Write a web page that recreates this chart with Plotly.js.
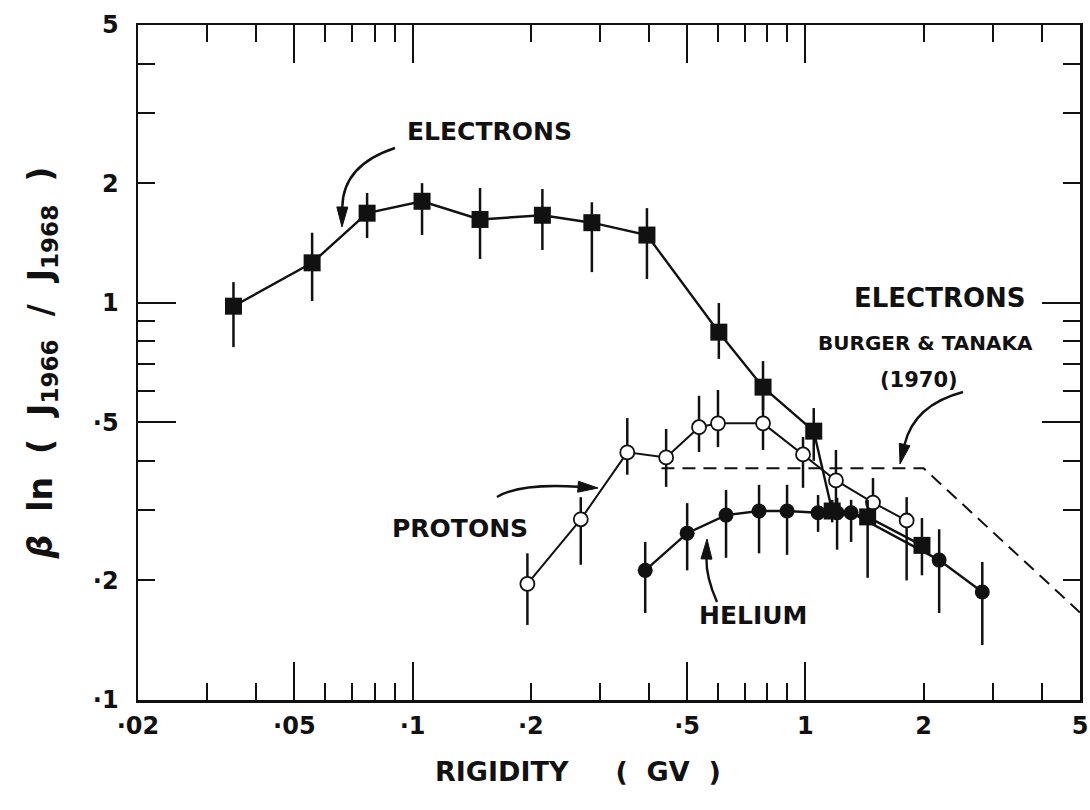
<!DOCTYPE html>
<html>
<head>
<meta charset="utf-8">
<script src="https://cdn.plot.ly/plotly-3.0.1.min.js"></script>
<style>
  html, body { margin: 0; padding: 0; background: #ffffff; }
  #chart { width: 1090px; height: 810px; }
</style>
</head>
<body>
<div id="chart"></div>
<script>
// Rigidity (GV) and beta*ln(J1966/J1968), with the ends of each error bar
const electronR  = [0.035, 0.0555, 0.0766, 0.1057, 0.1485, 0.214, 0.286, 0.395, 0.602, 0.78, 1.05, 1.17, 1.44, 1.98];
const electronV  = [0.98, 1.26, 1.68, 1.80, 1.62, 1.66, 1.59, 1.48, 0.843, 0.613, 0.475, 0.299, 0.289, 0.245];
const electronHi = [1.127, 1.50, 1.889, 2.00, 1.944, 1.933, 1.79, 1.73, 0.998, 0.713, 0.543, 0.319, 0.319, 0.287];
const electronLo = [0.773, 1.01, 1.455, 1.48, 1.288, 1.357, 1.194, 1.147, 0.722, 0.537, 0.40, 0.28, 0.203, 0.206];

const protonR  = [0.196, 0.268, 0.352, 0.442, 0.536, 0.599, 0.78, 0.986, 1.196, 1.486, 1.81];
const protonV  = [0.196, 0.285, 0.42, 0.408, 0.486, 0.497, 0.497, 0.415, 0.357, 0.314, 0.283];
const protonHi = [0.234, 0.324, 0.5125, 0.481, 0.583, 0.603, 0.586, 0.459, 0.426, 0.362, 0.324];
const protonLo = [0.1545, 0.219, 0.369, 0.344, 0.421, 0.433, 0.426, 0.342, 0.31, 0.276, 0.200];

const heliumR  = [0.391, 0.50, 0.628, 0.762, 0.898, 1.077, 1.204, 1.307, 2.19, 2.82];
const heliumV  = [0.212, 0.263, 0.292, 0.299, 0.299, 0.296, 0.296, 0.296, 0.225, 0.187];
const heliumHi = [0.25, 0.313, 0.338, 0.348, 0.348, 0.328, 0.323, 0.319, 0.269, 0.2225];
const heliumLo = [0.1656, 0.212, 0.228, 0.234, 0.232, 0.265, 0.239, 0.25, 0.1656, 0.1375];

// Burger & Tanaka (1970) electron curve
const btR = [0.43, 2.0, 5.0];
const btV = [0.383, 0.383, 0.166];

// Axis ticks
const xLabelVals = [0.02, 0.05, 0.1, 0.2, 0.5, 1, 2, 5];
const xLabelText = ['\u00B702', '\u00B705', '\u00B71', '\u00B72', '\u00B75', '1', '2', '5'];
const xMinorVals = [0.03, 0.04, 0.06, 0.07, 0.08, 0.09, 0.3, 0.4, 0.6, 0.7, 0.8, 0.9, 3, 4];
const xLongVals  = [0.05, 0.1, 0.5, 1];
const yLabelVals = [0.1, 0.2, 0.5, 1, 2, 5];
const yLabelText = ['\u00B71', '\u00B72', '\u00B75', '1', '2', '5'];
const yMinorVals = [0.3, 0.4, 0.6, 0.7, 0.8, 0.9, 3, 4];
const yLongVals  = [0.5, 1];

const FONT = 'DejaVu Sans, Verdana, sans-serif';
const INK = '#111111';
const NB = '\u00A0';

const plus  = (hi, v) => hi.map((h, i) => h - v[i]);
const minus = (lo, v) => lo.map((l, i) => v[i] - l);

function errBars(hi, lo, v) {
  return { type: 'data', symmetric: false, array: plus(hi, v), arrayminus: minus(lo, v),
           color: INK, thickness: 2.5, width: 0 };
}

const traces = [
  {
    name: 'Burger & Tanaka (1970)', x: btR, y: btV, xaxis: 'x2', yaxis: 'y2',
    mode: 'lines', line: { color: INK, width: 2, dash: '13px,8px' }, hoverinfo: 'skip'
  },
  {
    name: 'Helium', x: heliumR, y: heliumV, mode: 'lines+markers',
    line: { color: INK, width: 2.4 },
    marker: { symbol: 'circle', size: 15, color: INK, line: { width: 0 } },
    error_y: errBars(heliumHi, heliumLo, heliumV)
  },
  {
    name: 'Protons', x: protonR, y: protonV, mode: 'lines+markers',
    line: { color: INK, width: 2 },
    marker: { symbol: 'circle', size: 14, color: '#ffffff', line: { color: INK, width: 1.8 } },
    error_y: errBars(protonHi, protonLo, protonV)
  },
  {
    name: 'Electrons', x: electronR, y: electronV, mode: 'lines+markers',
    line: { color: INK, width: 2.4 },
    marker: { symbol: 'square', size: 17, color: INK, line: { width: 0 } },
    error_y: errBars(electronHi, electronLo, electronV)
  }
];

// Plot frame in pixels
const W = 1090, H = 810;
const M = { l: 138, r: 10, t: 25, b: 110 };
const PW = W - M.l - M.r, PH = H - M.t - M.b;
const fx = px => (px - M.l) / PW;
const fy = py => (H - M.b - py) / PH;

// Curved pointer arrows (pixel positions: tail, bend control, tip)
const pointers = [
  [[395, 148], [343, 165], [342, 227]],   // to electrons
  [[497, 497], [520, 483], [598, 488]],   // to protons
  [[717, 602], [706, 577], [707, 539]],   // to helium
  [[963, 392], [914, 405], [900, 464]]    // to Burger & Tanaka curve
];

const shapes = [];
pointers.forEach(([p0, c, p1]) => {
  const dx = p1[0] - c[0], dy = p1[1] - c[1];
  const L = Math.hypot(dx, dy), ux = dx / L, uy = dy / L;
  const len = 20, hw = 5.5;
  const bx = p1[0] - ux * len, by = p1[1] - uy * len;
  const a = [bx - uy * hw, by + ux * hw], b = [bx + uy * hw, by - ux * hw];
  shapes.push({
    type: 'path', xref: 'paper', yref: 'paper',
    path: `M${fx(p0[0])},${fy(p0[1])} Q${fx(c[0])},${fy(c[1])} ${fx(bx)},${fy(by)}`,
    line: { color: INK, width: 2.4 }
  });
  shapes.push({
    type: 'path', xref: 'paper', yref: 'paper',
    path: `M${fx(p1[0])},${fy(p1[1])} L${fx(a[0])},${fy(a[1])} L${fx(b[0])},${fy(b[1])} Z`,
    fillcolor: INK, line: { color: INK, width: 1 }
  });
});

function label(text, px, py, size) {
  return { text: text, xref: 'paper', yref: 'paper', x: fx(px), y: fy(py),
           xanchor: 'center', yanchor: 'middle', showarrow: false,
           font: { family: FONT, size: size, color: INK, weight: 'bold' } };
}

const annotations = [
  label('ELECTRONS', 489, 131, 25),
  label('ELECTRONS', 940, 298, 26),
  label('BURGER &amp; TANAKA', 925, 343, 20),
  label('(1970)', 919, 380, 21),
  label('PROTONS', 460, 528, 25),
  label('HELIUM', 753, 615, 25),
  // x-axis title, set a little left of the plot centre
  label('RIGIDITY' + NB.repeat(5) + '(' + NB.repeat(2) + 'GV' + NB.repeat(2) + ')', 578, 771, 27)
];

const logX = [Math.log10(0.02), Math.log10(5)];
const logY = [Math.log10(0.1), Math.log10(5)];

const baseAxis = {
  type: 'log', showgrid: false, zeroline: false,
  showline: true, linecolor: INK, linewidth: 2.5, mirror: 'allticks',
  ticks: 'inside', ticklen: 17, tickwidth: 2, tickcolor: INK,
  tickfont: { family: FONT, size: 24, color: INK, weight: 'bold' },
  tickmode: 'array'
};

const layout = {
  width: W, height: H,
  margin: M,
  paper_bgcolor: '#ffffff', plot_bgcolor: '#ffffff',
  showlegend: false,
  xaxis: Object.assign({}, baseAxis, {
    range: logX, tickvals: xLabelVals, ticktext: xLabelText,
    ticklabelstandoff: 3,
    minor: { tickmode: 'array', tickvals: xMinorVals, ticks: 'inside', ticklen: 17, tickwidth: 2, tickcolor: INK }
  }),
  yaxis: Object.assign({}, baseAxis, {
    range: logY, tickvals: yLabelVals, ticktext: yLabelText,
    ticklabelstandoff: 12,
    minor: { tickmode: 'array', tickvals: yMinorVals, ticks: 'inside', ticklen: 17, tickwidth: 2, tickcolor: INK },
    title: { text: '<i>\u03B2</i>' + NB + ' ln' + NB + ' (' + NB + ' J<sub>1966</sub>' + NB + ' /' + NB + ' J<sub>1968</sub>' + NB + ' )',
             standoff: 31,
             font: { family: FONT, size: 33, color: INK, weight: 'bold' } }
  }),
  // long ticks at the half and full decades
  xaxis2: Object.assign({}, baseAxis, {
    overlaying: 'x', anchor: 'y2', range: logX, tickvals: xLongVals,
    ticklen: 38, showticklabels: false
  }),
  yaxis2: Object.assign({}, baseAxis, {
    overlaying: 'y', anchor: 'x2', range: logY, tickvals: yLongVals,
    ticklen: 38, showticklabels: false
  }),
  shapes: shapes,
  annotations: annotations
};

Plotly.newPlot('chart', traces, layout, { displayModeBar: false, staticPlot: true });
</script>
</body>
</html>
